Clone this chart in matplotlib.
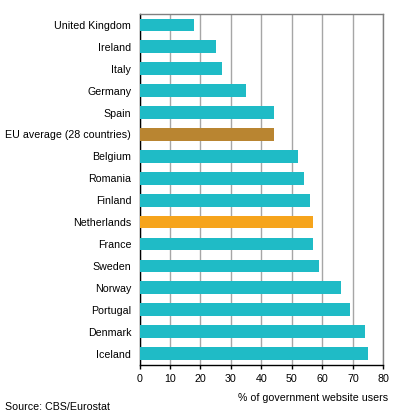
import matplotlib
matplotlib.use('Agg')
import matplotlib.pyplot as plt

countries = ['United Kingdom', 'Ireland', 'Italy', 'Germany', 'Spain',
             'EU average (28 countries)', 'Belgium', 'Romania', 'Finland',
             'Netherlands', 'France', 'Sweden', 'Norway', 'Portugal',
             'Denmark', 'Iceland']
values = [18, 25, 27, 35, 44, 44, 52, 54, 56, 57, 57, 59, 66, 69, 74, 75]

teal = '#1fbbc6'
colors = []
for c in countries:
    if c.startswith('EU'):
        colors.append('#b98531')
    elif c == 'Netherlands':
        colors.append('#f6a41c')
    else:
        colors.append(teal)

plt.rcParams['font.family'] = ['Liberation Sans', 'DejaVu Sans']
plt.rcParams['font.size'] = 7.7

fig = plt.figure(figsize=(3.96, 4.2), dpi=100)
ax = fig.add_axes([0.3523, 0.1321, 0.6157, 0.8346])

ypos = list(range(len(countries)))
ax.barh(ypos, values, height=0.58, color=colors, zorder=3)
ax.set_ylim(len(countries) - 0.5, -0.5)
ax.set_yticks(ypos)
ax.set_yticklabels(countries)
ax.set_xlim(0, 80)
ax.set_xticks(range(0, 81, 10))

ax.grid(axis='x', color='#a6a6a6', linewidth=1, zorder=0)
ax.tick_params(axis='y', length=0, pad=6)
ax.tick_params(axis='x', length=3, width=1, color='black', pad=4)

for s in ['top', 'right']:
    ax.spines[s].set_color('#808080')
for s in ['left', 'bottom']:
    ax.spines[s].set_color('black')
for s in ax.spines.values():
    s.set_linewidth(1)

fig.text(0.98, 0.052, '% of government website users', ha='right', va='center')
fig.text(0.013, 0.031, 'Source: CBS/Eurostat', ha='left', va='center')

fig.savefig('out.png', dpi=100)
